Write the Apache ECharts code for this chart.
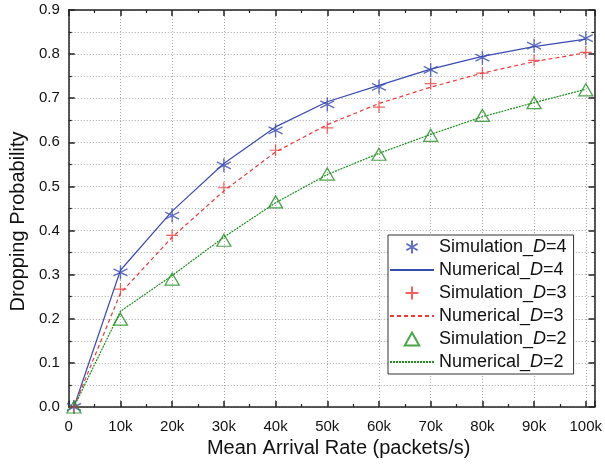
<!DOCTYPE html>
<html>
<head>
<meta charset="utf-8">
<script src="https://cdn.jsdelivr.net/npm/echarts@6/dist/echarts.min.js"></script>
<style>
html,body{margin:0;padding:0;background:#fff;}
#chart{width:605px;height:466px;}
</style>
</head>
<body>
<div id="chart"></div>
<script>
const arrivalRates = [1000, 10000, 20000, 30000, 40000, 50000, 60000, 70000, 80000, 90000, 100000];
const simD4 = [0, 0.305, 0.434, 0.548, 0.627, 0.686, 0.726, 0.764, 0.792, 0.819, 0.836];
const numD4 = [0, 0.310, 0.444, 0.552, 0.635, 0.692, 0.729, 0.766, 0.795, 0.817, 0.834];
const simD3 = [0, 0.267, 0.389, 0.497, 0.582, 0.633, 0.680, 0.733, 0.757, 0.786, 0.804];
const numD3 = [0, 0.258, 0.385, 0.490, 0.578, 0.640, 0.688, 0.725, 0.757, 0.783, 0.803];
const simD2 = [0, 0.199, 0.290, 0.378, 0.465, 0.528, 0.573, 0.616, 0.661, 0.690, 0.719];
const numD2 = [0, 0.217, 0.298, 0.385, 0.463, 0.527, 0.575, 0.618, 0.658, 0.690, 0.720];
const seriesNames = ['Simulation_D=4', 'Numerical_D=4', 'Simulation_D=3', 'Numerical_D=3', 'Simulation_D=2', 'Numerical_D=2'];

const FONT = "'Liberation Sans', Arial, sans-serif";
const BLUE = '#3a4cb4', RED = '#f03a3a', GREEN = '#1f8f1f';
const pairs = ys => arrivalRates.map((x, i) => [x, ys[i]]);

const ASTER = 'path://M0,-10 L0,10 M-8.66,-5 L8.66,5 M-8.66,5 L8.66,-5';
const PLUS = 'path://M0,-10 L0,10 M-10,0 L10,0';
const TRI = 'path://M0,-10 L10,8 L-10,8 Z';

const axisCommon = {
  axisLine: {show: true, onZero: false, lineStyle: {color: '#222', width: 1.5}},
  axisTick: {show: true, inside: true, length: 6, lineStyle: {color: '#222', width: 1.5}},
  minorTick: {show: true, splitNumber: 2, length: 3, lineStyle: {color: '#222', width: 1.2}},
};

const legendData = seriesNames.map((n, i) => i % 2 === 1
  ? {name: n, itemStyle: {opacity: 0}}
  : {name: n});

const chart = echarts.init(document.getElementById('chart'), null, {renderer: 'canvas'});
chart.setOption({
  animation: false,
  backgroundColor: '#fff',
  textStyle: {fontFamily: FONT},
  grid: {left: 66, right: 7, top: 10, bottom: 59},
  legend: {
    orient: 'vertical', left: 388, top: 235,
    data: legendData,
    backgroundColor: '#fff', borderColor: '#333', borderWidth: 1, borderRadius: 0,
    padding: [3, 7, 3, 1],
    itemWidth: 44, itemHeight: 13, itemGap: 5,
    formatter: name => {
      const p = name.split('D');
      return '{n|' + p[0] + '}{i|D}{n|' + p[1] + '}';
    },
    textStyle: {
      fontFamily: FONT, fontSize: 18, color: '#111',
      rich: {
        n: {fontFamily: FONT, fontSize: 18, color: '#111', lineHeight: 18},
        i: {fontFamily: FONT, fontSize: 18, color: '#111', fontStyle: 'italic', lineHeight: 18}
      }
    }
  },
  xAxis: [
    Object.assign({}, axisCommon, {
      type: 'value', min: 0, max: 101700, interval: 10000, position: 'bottom',
      name: 'Mean Arrival Rate (packets/s)', nameLocation: 'middle', nameGap: 25,
      nameTextStyle: {fontFamily: FONT, fontSize: 20, color: '#111', padding: [0, 0, 0, 14]},
      axisLabel: {
        fontFamily: FONT, fontSize: 15, color: '#111', margin: 12,
        showMaxLabel: true,
        formatter: v => v === 0 ? '0' : (v % 10000 === 0 ? (v / 1000) + 'k' : '')
      },
      splitLine: {show: true, lineStyle: {color: '#aaa', type: [1, 2], width: 1}},
      minorSplitLine: {show: false}
    }),
    Object.assign({}, axisCommon, {
      type: 'value', min: 0, max: 101700, interval: 10000, position: 'top',
      axisLabel: {show: false}, splitLine: {show: false}
    })
  ],
  yAxis: [
    Object.assign({}, axisCommon, {
      type: 'value', min: 0, max: 0.9, interval: 0.1, position: 'left',
      name: 'Dropping Probability', nameLocation: 'middle', nameGap: 40,
      nameTextStyle: {fontFamily: FONT, fontSize: 20, color: '#111', padding: [0, 26, 0, 0]},
      axisLabel: {fontFamily: FONT, fontSize: 15, color: '#111', margin: 9, formatter: v => v.toFixed(1)},
      splitLine: {show: true, lineStyle: {color: '#aaa', type: [1, 2], width: 1}},
      minorSplitLine: {show: true, lineStyle: {color: '#aaa', type: [1, 2], width: 1}}
    }),
    Object.assign({}, axisCommon, {
      type: 'value', min: 0, max: 0.9, interval: 0.1, position: 'right',
      axisLabel: {show: false}, splitLine: {show: false}
    })
  ],
  series: [
    {name: seriesNames[0], type: 'scatter', data: pairs(simD4), symbol: ASTER, symbolSize: 14, z: 5,
     itemStyle: {color: 'none', borderColor: BLUE, borderWidth: 1.4}},
    {name: seriesNames[1], type: 'line', data: pairs(numD4), symbol: 'none', z: 3,
     lineStyle: {color: BLUE, width: 1.2, type: 'solid'}, itemStyle: {color: BLUE}},
    {name: seriesNames[2], type: 'scatter', data: pairs(simD3), symbol: PLUS, symbolSize: 12, z: 5,
     itemStyle: {color: 'none', borderColor: RED, borderWidth: 1.2}},
    {name: seriesNames[3], type: 'line', data: pairs(numD3), symbol: 'none', z: 3,
     lineStyle: {color: RED, width: 1.2, type: [4, 3]}, itemStyle: {color: RED}},
    {name: seriesNames[4], type: 'scatter', data: pairs(simD2), symbol: TRI, symbolSize: [14, 12], z: 5,
     itemStyle: {color: 'none', borderColor: GREEN, borderWidth: 1.3}},
    {name: seriesNames[5], type: 'line', data: pairs(numD2), symbol: 'none', z: 3,
     lineStyle: {color: GREEN, width: 1.2, type: [2, 1]}, itemStyle: {color: GREEN}}
  ]
});
</script>
</body>
</html>
